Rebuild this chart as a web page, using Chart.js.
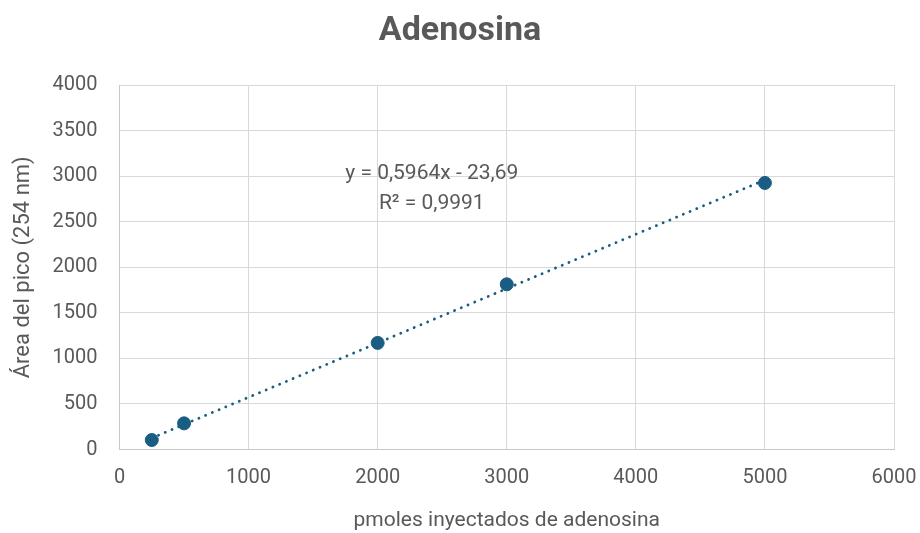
<!DOCTYPE html>
<html><head><meta charset="utf-8">
<script src="https://cdn.jsdelivr.net/npm/chart.js@4"></script>
<style>html,body{margin:0;padding:0;background:#fff}#wrap{width:920px;height:533px}</style>
</head><body><div id="wrap"><canvas id="c" width="920" height="533"></canvas></div>
<script>
const pmoles = [250, 500, 2000, 3000, 5000];
const area = [104, 287, 1170, 1813, 2925];
const slope = 0.5964;
const intercept = -23.69;
const xTicks = [0, 1000, 2000, 3000, 4000, 5000, 6000];
const yTicks = [0, 500, 1000, 1500, 2000, 2500, 3000, 3500, 4000];
const eqText = 'y = 0,5964x - 23,69';
const r2Text = 'R² = 0,9991';

const gray = '#595959';
const blue = '#1a5d82';
const fam = 'Roboto, "Liberation Sans", sans-serif';

const trendX = [pmoles[0], pmoles[pmoles.length - 1]];
const trend = trendX.map(x => ({x, y: slope * x + intercept}));

const annot = {
  id: 'annot',
  afterDatasetsDraw(chart) {
    const {ctx, scales: {x, y}} = chart;
    ctx.save();
    ctx.fillStyle = gray;
    ctx.font = '21px ' + fam;
    ctx.textAlign = 'center';
    ctx.textBaseline = 'middle';
    ctx.fillText(eqText, x.getPixelForValue(2419), y.getPixelForValue(3028));
    ctx.fillText(r2Text, x.getPixelForValue(2419), y.getPixelForValue(2700));
    ctx.restore();
  }
};

new Chart(document.getElementById('c'), {
  type: 'scatter',
  data: {
    datasets: [
      {
        data: trend, showLine: true, pointRadius: 0, borderColor: blue,
        borderWidth: 2.8, borderDash: [0.1, 7.2], borderCapStyle: 'round', order: 2
      },
      {
        data: pmoles.map((x, i) => ({x, y: area[i]})),
        pointRadius: 6.5, pointBackgroundColor: blue, pointBorderColor: blue, order: 1
      }
    ]
  },
  options: {
    responsive: false, animation: false,
    layout: {padding: {left: 0, right: 0, top: 0, bottom: 0}},
    plugins: {
      legend: {display: false}, tooltip: {enabled: false},
      title: {display: true, text: 'Adenosina', color: gray,
        font: {family: fam, size: 34, weight: 'bold'}, padding: {top: 11, bottom: 33.2}}
    },
    scales: {
      x: {
        type: 'linear', min: 0, max: 6000,
        afterBuildTicks: s => { s.ticks = xTicks.map(v => ({value: v})); },
        afterFit: s => { s.height = 83.5; s.paddingRight = 26; s.paddingLeft = 0; },
        grid: {color: '#d9d9d9', drawTicks: false},
        border: {color: '#c8c8c8'},
        ticks: {color: gray, font: {family: fam, size: 20}, padding: 16.5,
          callback: v => String(v)},
        title: {display: true, text: 'pmoles inyectados de adenosina', color: gray,
          font: {family: fam, size: 21}, padding: {top: 0, bottom: 0}}
      },
      y: {
        type: 'linear', min: 0, max: 4000,
        afterBuildTicks: s => { s.ticks = yTicks.map(v => ({value: v})); },
        afterFit: s => { s.width = 119.5; },
        grid: {color: '#d9d9d9', drawTicks: false},
        border: {color: '#c8c8c8'},
        ticks: {color: gray, font: {family: fam, size: 20}, padding: 22,
          callback: v => String(v)},
        title: {display: true, text: 'Área del pico (254 nm)', color: gray,
          font: {family: fam, size: 22}, padding: {top: 10, bottom: 0}}
      }
    }
  },
  plugins: [annot]
});
</script></body></html>
